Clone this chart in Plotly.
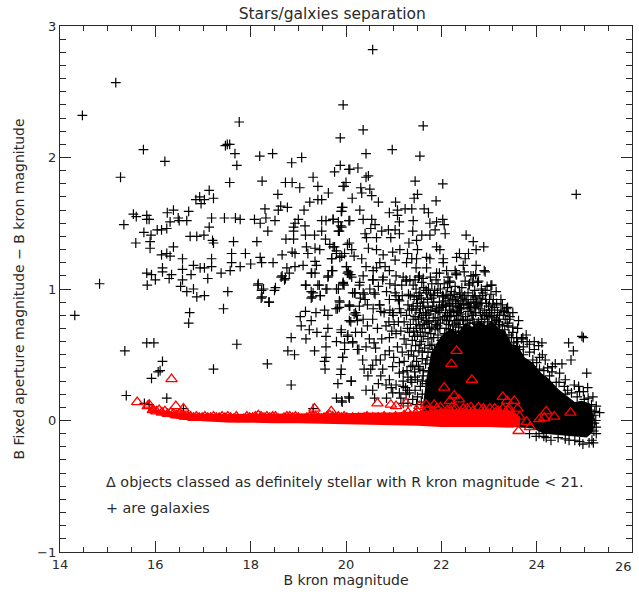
import plotly.graph_objects as go

galaxies_bright = [(14.47,2.32),(15.17,2.57),(15.75,2.06),(16.2,1.97),(15.27,1.85),(17.76,2.27),(17.51,2.10),(17.56,2.10),(17.47,2.09),(17.67,2.03),(17.71,1.94),(17.56,1.81),(18.19,2.01),(18.46,2.03),(18.86,1.96),(19.07,2.0),(18.24,1.82),(19.31,1.85),(18.73,1.81),(18.87,1.81),(19.03,1.77),(19.41,1.78),(18.57,1.72),(19.63,1.73),(19.94,2.40),(19.88,2.15),(19.88,1.94),(19.76,1.89),(20.06,1.91),(20.0,1.81),(19.94,1.78),(17.13,1.75),(17.22,1.69),(17.03,1.68),(16.93,1.70),(16.85,1.68),(16.96,1.65),(16.7,1.59),(16.38,1.6),(16.25,1.58),(15.54,1.57),(15.6,1.55),(15.82,1.56),(15.82,1.53),(15.87,1.53),(15.34,1.49),(16.31,1.51),(16.48,1.54),(16.5,1.52),(16.66,1.52),(17.18,1.54),(17.45,1.54),(17.68,1.54),(17.78,1.53),(18.08,1.53),(18.2,1.5),(18.32,1.54),(18.51,1.52),(18.3,1.61),(18.58,1.6),(18.63,1.63),(18.77,1.62),(19.12,1.6),(19.24,1.66),(19.41,1.68),(19.49,1.68),(19.91,1.62),(19.9,1.59),(18.36,1.44),(19.0,1.53),(18.93,1.5),(18.9,1.47),(18.9,1.44),(19.14,1.48),(19.49,1.52),(19.58,1.52),(19.73,1.53),(19.49,1.44),(19.84,1.51),(19.89,1.48),(19.86,1.44),(20.06,1.52)]
galaxies_mid_left = [(15.76,1.43),(15.91,1.41),(15.89,1.36),(15.89,1.31),(15.59,1.35),(16.04,1.45),(16.13,1.45),(16.24,1.46),(16.73,1.4),(16.87,1.4),(17.02,1.41),(17.13,1.47),(17.2,1.37),(17.22,1.35),(17.64,1.36),(18.13,1.36),(18.74,1.38),(18.9,1.38),(19.15,1.41),(19.34,1.41),(19.57,1.38),(16.38,1.32),(16.13,1.26),(16.24,1.27),(16.31,1.25),(16.57,1.23),(17.6,1.27),(17.89,1.27),(18.66,1.26),(18.87,1.28),(18.93,1.27),(19.17,1.32),(19.35,1.31),(19.45,1.3),(19.66,1.34),(19.76,1.32),(19.8,1.29),(20.03,1.34),(19.2,1.27),(17.18,1.23),(18.2,1.24),(17.6,1.2),(18.0,1.19),(18.23,1.2),(18.47,1.2),(16.8,1.18),(17.18,1.17),(16.94,1.16),(17.03,1.16),(17.78,1.17),(17.57,1.14),(16.15,1.16),(16.57,1.15),(16.15,1.13),(15.82,1.12),(15.92,1.11),(16.34,1.11),(16.75,1.11),(17.38,1.12),(18.76,1.16),(18.93,1.17),(19.1,1.18),(19.35,1.21),(19.38,1.18),(19.7,1.23),(19.91,1.25),(19.7,1.14),(20.01,1.17),(20.03,1.12),(19.28,1.12),(19.35,1.12),(16.0,1.07),(16.29,1.08),(16.57,1.07),(17.1,1.08),(18.66,1.1),(18.73,1.08),(19.63,1.1),(14.83,1.04),(15.83,1.03),(16.53,1.02),(18.16,1.04),(18.52,1.01),(19.16,1.03),(19.44,1.03),(19.94,1.04),(19.84,1.0),(19.6,1.0),(16.66,0.98),(16.8,1.0),(17.52,0.98),(18.27,1.0),(19.31,0.97),(16.87,0.94),(17.03,0.95),(18.24,0.94),(19.29,0.94),(19.46,0.95)]
galaxies_low_left = [(14.31,0.80),(16.72,0.82),(16.7,0.74),(17.43,0.85),(18.39,0.9),(15.36,0.53),(15.82,0.59),(15.97,0.59),(16.15,0.45),(17.71,0.58),(16.1,0.38),(16.06,0.37),(15.92,0.32),(17.22,0.39),(18.35,0.43),(18.85,0.27),(15.39,0.19),(16.24,0.17),(15.77,0.13),(15.87,0.12),(16.59,0.09),(18.85,0.63),(18.78,0.53),(18.92,0.5),(19.16,0.62),(19.34,0.53),(19.23,0.69),(19.06,0.72),(19.04,0.79),(19.15,0.83),(19.27,0.76),(19.37,0.82),(19.62,0.7),(19.39,0.67),(19.55,0.84),(19.62,0.8),(19.79,0.85),(19.86,0.91),(19.86,0.86),(20.07,0.88),(19.27,0.98),(19.27,0.93),(19.46,0.95),(19.15,1.03),(19.41,1.03),(19.58,1.0),(19.8,1.0),(19.94,1.04),(18.15,1.03),(18.23,0.99),(18.5,0.99),(18.22,0.93),(18.38,0.9),(18.64,1.09),(18.71,1.07),(18.81,1.12),(19.27,1.12),(19.62,1.09),(20.07,1.11),(20.18,0.97),(20.2,0.82),(20.1,0.75),(19.9,0.69),(20.04,0.65),(20.2,0.67),(19.58,0.64),(19.8,0.6),(19.97,0.59),(20.14,0.6),(19.58,0.56),(19.97,0.54),(20.24,0.54),(19.93,0.48),(19.58,0.48),(19.55,0.45),(19.56,0.39),(19.9,0.39),(19.89,0.35),(20.11,0.3),(19.83,0.28),(19.8,0.17),(19.92,0.14),(20.07,0.17),(19.31,0.09)]
galaxies_upper_right = [(20.56,2.82),(21.62,2.24),(20.36,2.21),(20.97,2.06),(20.42,2.03),(21.55,2.01),(20.08,1.91),(20.25,1.92),(20.47,1.86),(20.42,1.85),(19.96,1.78),(21.45,1.82),(22.03,1.8),(24.83,1.72),(20.31,1.77),(20.5,1.76),(20.33,1.73),(20.54,1.71),(20.13,1.69),(20.68,1.66),(21.04,1.66),(21.5,1.72),(21.43,1.69),(21.89,1.67),(19.93,1.62),(19.91,1.59),(20.29,1.6),(20.91,1.58),(21.08,1.6),(21.08,1.56),(21.24,1.61),(21.38,1.61),(21.64,1.61),(21.73,1.58),(19.73,1.53),(20.08,1.52),(20.36,1.53),(20.54,1.53),(21.12,1.51),(21.41,1.52),(22.03,1.53),(21.9,1.51),(21.76,1.5),(19.91,1.47),(19.84,1.44),(20.61,1.49),(20.52,1.46),(20.75,1.44),(20.89,1.45),(21.03,1.45),(20.4,1.42),(21.12,1.42),(20.94,1.39),(21.4,1.44),(22.06,1.49),(21.87,1.45),(22.08,1.42),(21.59,1.41),(21.76,1.41),(22.52,1.41),(22.67,1.36),(20.64,1.39),(20.43,1.39),(21.48,1.37),(21.32,1.35),(20.07,1.35),(19.73,1.32),(20.47,1.31),(20.12,1.3),(20.64,1.3),(21.13,1.3),(20.98,1.28),(21.5,1.3),(21.9,1.32),(21.97,1.3),(22.73,1.3),(22.89,1.32),(19.8,1.27),(19.97,1.27),(20.17,1.25),(20.78,1.26),(20.33,1.23),(19.7,1.23),(19.87,1.24),(21.03,1.22),(21.29,1.27),(21.38,1.23),(21.48,1.23),(21.69,1.24),(21.76,1.23),(22.04,1.23),(22.32,1.24),(22.38,1.27),(22.57,1.27),(22.5,1.23),(22.04,1.2),(20.42,1.17),(20.71,1.2),(20.64,1.16),(20.01,1.17),(20.82,1.17),(21.27,1.2),(21.69,1.16),(21.47,1.16),(22.46,1.18),(22.73,1.18),(22.29,1.14),(22.92,1.13),(22.11,1.14),(19.72,1.14),(20.05,1.13),(20.57,1.14),(20.91,1.14),(20.12,1.09),(20.36,1.1),(20.78,1.09),(21.2,1.09),(21.34,1.07),(21.52,1.09),(21.9,1.12),(21.93,1.04),(22.32,1.11),(22.67,1.1),(22.18,1.06),(19.94,1.05),(20.29,1.05),(20.57,1.07),(21.03,1.03),(21.27,1.06),(21.59,1.05),(22.59,1.04),(22.78,1.06),(23.06,1.03),(20.19,0.97),(20.36,0.97),(20.61,0.96),(20.85,0.98),(21.03,0.97),(21.31,0.96),(21.69,0.97),(22.04,0.94),(22.39,0.96),(22.71,0.94),(22.92,0.99),(19.87,0.9),(20.4,0.92),(21.1,0.92),(20.71,0.88),(21.48,0.92),(21.8,0.93),(22.18,0.89),(23.09,0.92),(22.57,0.89),(22.85,0.89),(19.82,0.85),(20.08,0.87),(20.92,0.84),(20.57,0.85),(21.41,0.87),(21.9,0.85),(22.04,0.87),(22.39,0.85),(23.37,0.85),(23.3,0.8),(23.44,0.79),(20.22,0.8),(21.27,0.8),(21.69,0.8),(20.99,0.8),(22.32,0.8),(22.67,0.8),(23.06,0.8),(20.36,0.77)]
galaxies_central = [(20.1,1.11),(19.96,1.03),(20.28,1.03),(20.14,0.97),(20.56,1.07),(20.77,1.07),(21.05,1.1),(21.26,1.07),(21.54,1.1),(21.89,1.07),(22.31,1.11),(21.96,1.12),(20.38,0.96),(20.59,0.97),(21.05,0.95),(21.12,0.91),(20.91,0.92),(21.68,0.99),(22.03,0.95),(22.27,0.96),(22.45,0.93),(20.07,0.87),(20.28,0.87),(20.45,0.88),(20.7,0.88),(20.73,0.83),(20.98,0.82),(21.15,0.82),(21.33,0.84),(21.54,0.82),(21.82,0.87),(22.1,0.87),(22.34,0.84),(20.17,0.81),(20.07,0.76),(20.24,0.76),(20.56,0.77),(20.84,0.72),(21.01,0.73),(21.29,0.7),(21.15,0.68),(21.47,0.73),(21.68,0.76),(21.89,0.73),(22.17,0.76),(22.45,0.77),(19.9,0.67),(20.03,0.64),(20.14,0.59),(20.49,0.62),(20.59,0.59),(20.42,0.56),(20.91,0.63),(21.22,0.62),(21.08,0.56),(20.91,0.53),(20.27,0.54),(19.93,0.48),(20.35,0.46),(20.63,0.46),(20.56,0.42),(20.52,0.39),(20.77,0.39),(20.38,0.39),(20.98,0.41),(21.22,0.45),(21.4,0.42),(21.12,0.36),(20.91,0.31),(20.73,0.34),(20.11,0.3),(21.36,0.31),(21.05,0.27),(20.84,0.27),(20.42,0.23),(20.56,0.23),(21.12,0.21),(20.98,0.21),(21.29,0.23),(20.06,0.18),(19.91,0.15),(21.15,0.17),(21.26,0.2),(20.85,0.17),(20.6,0.17)]
galaxies_edge = [(22.31,1.12),(22.62,1.1),(22.9,1.14),(22.17,1.05),(22.58,1.03),(22.76,1.05),(23.04,1.03),(22.38,0.97),(22.87,0.97),(22.66,0.95),(22.03,0.95),(23.01,0.92),(23.08,0.88),(22.83,0.89),(22.03,0.88),(22.17,0.88),(23.39,0.86),(23.32,0.83),(22.38,0.86),(22.59,0.86),(23.01,0.82),(23.43,0.77),(23.15,0.76),(23.6,0.7),(23.78,0.65),(23.71,0.63),(24.11,0.59),(24.04,0.57),(23.85,0.58),(24.67,0.59),(24.95,0.64),(24.98,0.63),(24.77,0.53),(24.72,0.46),(24.53,0.43),(24.39,0.43),(24.23,0.4),(25.05,0.36),(24.79,0.27),(24.65,0.23),(25.07,0.25),(25.18,0.18),(25.25,0.11),(25.32,0.06),(25.21,-0.02),(25.25,-0.1),(25.16,-0.15),(25.19,-0.17),(24.97,-0.18),(24.3,-0.15),(23.99,-0.12),(24.41,0.29),(24.06,0.39),(23.92,0.46),(23.64,0.54),(23.22,0.73),(23.5,0.67),(24.06,0.48),(24.27,0.34),(24.6,0.2),(24.85,0.18),(25.0,0.16),(25.12,0.08),(25.2,0.04),(25.25,-0.05),(25.1,-0.17),(24.8,-0.15),(24.6,-0.14),(24.45,-0.13),(24.15,-0.12),(23.85,-0.1)]
galaxies_dense = [(21.41,1.03),(21.73,1.0),(22.06,1.04),(22.43,1.01),(22.7,0.99),(22.96,1.02),(21.55,0.97),(21.86,0.99),(22.21,0.98),(22.49,0.95),(22.81,0.93),(21.43,0.94),(21.71,0.92),(21.96,0.9),(22.14,0.93),(22.3,0.91),(22.52,0.92),(22.74,0.9),(22.99,0.87),(21.5,0.89),(21.78,0.84),(22.01,0.86),(22.26,0.83),(22.47,0.88),(22.69,0.86),(22.91,0.84),(23.12,0.86),(21.38,0.85),(21.61,0.87),(21.87,0.83),(22.09,0.82),(22.33,0.87),(22.56,0.83),(22.79,0.85),(23.0,0.79),(23.25,0.84),(21.45,0.79),(21.67,0.82),(21.93,0.78),(22.13,0.8),(22.28,0.76),(22.51,0.79),(22.72,0.82),(22.95,0.81),(23.11,0.78),(23.34,0.77),(21.52,0.77),(21.74,0.75),(21.98,0.74),(22.2,0.79),(22.41,0.81),(22.6,0.74),(22.84,0.77),(23.06,0.74),(23.28,0.72),(21.35,0.73),(21.6,0.7),(21.8,0.71),(22.03,0.77),(22.24,0.72),(22.47,0.73),(22.66,0.77),(22.89,0.72),(23.1,0.7),(23.33,0.69),(23.5,0.71),(21.42,0.68),(21.66,0.67),(21.87,0.69),(22.1,0.7),(22.3,0.67),(22.52,0.7),(22.75,0.73),(22.96,0.7),(23.18,0.66),(23.42,0.65),(23.58,0.63),(21.5,0.65),(21.72,0.62),(21.93,0.65),(22.16,0.66),(22.36,0.71),(22.58,0.66),(22.8,0.69),(23.02,0.68),(23.25,0.62),(21.39,0.61),(21.58,0.6),(21.8,0.58),(22.0,0.61),(22.22,0.63),(22.42,0.64),(22.63,0.62),(22.85,0.65),(23.08,0.63),(23.3,0.6),(23.52,0.59),(23.72,0.56),(21.46,0.57),(21.65,0.55),(21.86,0.54),(22.07,0.57),(22.27,0.59),(22.48,0.6),(21.53,0.53),(21.72,0.52),(21.93,0.5),(22.12,0.53),(22.34,0.55),(21.42,0.49),(21.6,0.47),(21.79,0.48),(22.0,0.46),(22.18,0.49),(21.48,0.45),(21.67,0.43),(21.85,0.42),(22.05,0.41),(21.36,0.41),(21.55,0.39),(21.73,0.37),(21.92,0.38),(21.44,0.37),(21.62,0.34),(21.8,0.33),(21.3,0.33),(21.5,0.31),(21.68,0.28),(21.38,0.29),(21.56,0.26),(21.25,0.25),(21.45,0.23),(21.6,0.2),(21.33,0.21),(21.5,0.18),(21.4,0.16),(21.58,0.14),
    (21.35,0.95),(21.58,0.93),(21.84,0.95),(22.1,0.96),(22.24,0.92),(22.36,0.89),(22.62,0.9),(22.77,0.88),(22.93,0.92),(21.47,0.84),(21.72,0.86),(21.95,0.84),(22.17,0.84),(22.42,0.85),(22.64,0.81),(22.87,0.8),(23.18,0.82),(21.58,0.78),(21.83,0.78),(22.07,0.79),(22.35,0.77),(22.55,0.76),(22.78,0.75),(22.97,0.75),(23.2,0.75),(23.4,0.72),(21.55,0.72),(21.75,0.7),(21.97,0.7),(22.19,0.69),(22.43,0.68),(22.68,0.7),(22.92,0.67),(23.14,0.71),(23.3,0.65),(23.47,0.63),(21.44,0.64),(21.62,0.64),(21.84,0.63),(22.06,0.63),(22.27,0.64),(22.53,0.64),(22.72,0.66),(23.22,0.68),(23.6,0.6),(21.55,0.58),(21.76,0.57),(21.97,0.56),(22.17,0.58),(22.38,0.6),(22.6,0.6),(21.37,0.53),(21.6,0.52),(21.82,0.52),(22.03,0.52),(22.24,0.54),(21.52,0.41),(21.7,0.46),(21.9,0.46),(22.1,0.47),(21.45,0.33),(21.62,0.38),(21.82,0.4),(21.96,0.43),(21.2,0.3),(21.6,0.3),(21.75,0.3),(21.48,0.12),(21.3,0.13),(21.2,0.13),(21.75,0.15),
    (23.85,0.52),(24.0,0.44),(24.15,0.38),(24.32,0.37),(24.47,0.29),(24.58,0.26),(24.73,0.21),(24.9,0.22),(25.08,0.17),(25.15,0.12),(25.22,0.07),(25.24,0.0),(25.2,-0.08),(24.9,-0.16),(24.68,-0.15),(24.2,-0.13),(24.05,-0.1),(23.72,0.5),(23.58,0.56),(23.8,0.43),(23.68,0.62)]
galaxies_dense_upper = [(21.47,1.0),(21.63,1.01),(21.8,1.04),(21.98,1.0),(22.13,1.01),(22.29,1.02),(22.5,1.06),(22.66,1.05),(22.84,1.0),(21.53,0.95),(21.77,0.96),(21.92,0.97),(22.19,0.95),(22.33,0.94),(22.56,0.97),(22.68,0.92),(22.86,0.95),(23.04,0.96),(21.63,0.9),(21.84,0.9),(22.08,0.91),(22.23,0.87),(22.41,0.91),(22.54,0.88),(22.72,0.87),(22.95,0.89),(23.16,0.89),(21.56,0.85),(21.74,0.81),(21.97,0.82),(22.2,0.82),(22.37,0.82),(22.61,0.85),(22.82,0.82),(23.05,0.84),(23.22,0.8),(21.62,0.8),(21.87,0.76),(22.11,0.76),(22.31,0.74),(22.46,0.76),(22.69,0.74),(22.91,0.77),(23.16,0.77),(23.38,0.74),(21.7,0.74),(21.92,0.72),(22.15,0.73),(22.39,0.73),(22.58,0.71),(22.82,0.72),(23.03,0.72),(21.48,0.7),(21.64,0.73),(22.07,0.66),(22.25,0.68),(22.49,0.67),(22.69,0.68),(21.78,0.66),(21.56,0.67),(21.33,0.67),(21.41,0.77),(21.3,0.88),(21.22,0.75),(21.18,0.95),(21.12,0.85),(21.26,0.58),(21.31,0.5),(21.18,0.52),(21.05,0.66),(20.96,0.68),(21.1,0.75),(20.9,0.75),(20.8,0.82),(20.66,0.7),(20.75,0.62),(20.62,0.55),(20.82,0.5),(20.72,0.46),(21.0,0.48),(21.12,0.44),(21.28,0.38),(21.2,0.37),(20.46,0.34),(20.68,0.28),(20.95,0.25),(21.2,0.26),(20.45,0.72),(20.33,0.67),(20.3,0.93),(20.5,1.0),(20.68,1.02),(20.92,1.04),(21.17,1.03),(21.45,1.07),(21.62,1.08),(21.77,1.09),(22.14,1.09),(22.48,1.13),(22.72,1.11),(23.15,0.98),(23.25,0.92),(23.5,0.82),(23.62,0.76),(23.4,0.82),(23.28,0.88),(23.8,0.6),(23.95,0.54),(24.18,0.46),(24.33,0.41),(24.48,0.36),(24.6,0.31),(24.88,0.26),(24.98,0.22),(23.95,0.6),(24.12,0.5)]

# Outline of the part of the cloud where the plus signs merge into solid black.
solid_cloud_x = [21.6,21.68,21.78,21.92,22.05,22.2,22.34,22.5,22.65,22.8,22.95,23.05,23.2,23.34,23.48,23.6,23.75,23.92,24.1,24.25,24.45,24.62,24.8,24.95,25.12,25.2,25.18,25.05,24.76,24.4,24.15,23.92,23.36,22.66,21.96]
solid_cloud_y = [0.08,0.3,0.5,0.6,0.66,0.7,0.66,0.74,0.71,0.76,0.72,0.76,0.7,0.68,0.58,0.57,0.48,0.44,0.36,0.32,0.24,0.19,0.14,0.15,0.13,0.03,-0.09,-0.13,-0.12,-0.11,-0.1,-0.06,-0.045,-0.045,-0.02]

# Outline of the stellar locus, where the triangles merge into solid red.
locus_top_x = [15.85,16.0,16.2,16.5,17.0,17.5,18.0,18.5,19.0,19.3,19.6,20.0,20.5,21.0,21.5,22.0,22.5,23.0,23.5,23.65]
locus_top_y = [0.09,0.085,0.075,0.06,0.05,0.05,0.05,0.05,0.05,0.055,0.055,0.055,0.06,0.06,0.07,0.08,0.08,0.08,0.07,0.03]
locus_bottom_x = [23.65,23.5,23.0,22.5,22.0,21.5,21.0,20.5,20.0,19.5,19.0,18.5,18.0,17.5,17.0,16.5,16.2,16.0,15.85]
locus_bottom_y = [-0.04,-0.055,-0.05,-0.05,-0.05,-0.04,-0.035,-0.03,-0.03,-0.02,-0.02,-0.02,-0.02,-0.015,-0.005,0.01,0.03,0.05,0.07]

stars_isolated = [(22.32,0.53),(22.21,0.43),(22.64,0.31),(22.06,0.25),(23.29,0.18),(23.38,0.15),(23.53,0.15),(22.27,0.19),(22.37,0.16),(22.18,0.15),(23.6,0.09),(24.2,0.07),(24.37,0.03),(24.71,0.06),(24.06,0.01),(23.79,-0.01),(23.86,-0.05),(23.62,-0.08),(23.29,0.09),(23.39,0.08),(23.22,0.06),(23.64,0.03),(24.16,0.02),(20.66,0.13),(20.94,0.12),(21.05,0.11),(21.26,0.13),(21.54,0.11),(21.68,0.12),(21.85,0.12),(16.34,0.315),(15.62,0.14),(15.84,0.11),(15.87,0.12),(16.43,0.11),(16.59,0.09),(19.34,0.09),(19.69,0.07)]
stars_locus_bright = [(15.95,0.08),(16.02,0.07),(16.08,0.08),(16.14,0.06),(16.2,0.07),(16.26,0.05),(16.32,0.06),(16.38,0.05),(16.44,0.04),(16.5,0.05),(16.56,0.04),(16.62,0.03),(16.68,0.03),(16.74,0.03),(16.8,0.02),(16.86,0.03),(16.92,0.02),(16.98,0.02),(17.04,0.03),(17.1,0.02),(17.16,0.02),(17.22,0.03),(17.28,0.02),(17.34,0.02),(17.4,0.03),(17.46,0.02),(17.52,0.03),(17.58,0.02),(17.64,0.01),(17.7,0.03),(17.85,0.01),(17.92,0.03),(17.98,0.02),(18.04,0.02),(18.1,0.03),(18.16,0.04),(18.22,0.03),(18.28,0.02),(18.34,0.03),(18.4,0.02),(18.46,0.03),(18.52,0.03),(18.58,0.01),(18.7,0.02),(18.76,0.03),(18.82,0.03),(18.88,0.02),(18.94,0.03),(19.0,0.02),(19.06,0.01),(19.12,0.01),(19.18,0.02),(19.24,0.03),(19.3,0.03),(19.36,0.03),(19.42,0.02),(19.48,0.01),(19.54,0.02),(19.6,0.03),(19.66,0.04),(19.72,0.03),(19.78,0.02),(19.84,0.03),(19.9,0.02),(19.96,0.03)]
stars_locus_faint = [(20.02,0.02),(20.08,0.01),(20.14,0.02),(20.2,0.01),(20.26,0.02),(20.32,0.01),(20.38,0.02),(20.44,0.03),(20.5,0.01),(20.56,0.02),(20.62,0.01),(20.68,0.02),(20.74,0.01),(20.8,0.03),(20.86,0.0),(20.92,0.02),(20.98,0.01),(21.04,0.03),(21.1,0.0),(21.16,0.02),(21.22,0.04),(21.28,0.01),(21.34,0.03),(21.4,0.0),(21.46,0.05),(21.52,0.02),(21.58,0.0),(21.64,0.06),(21.7,0.02),(21.76,0.0),(21.82,0.07),(21.88,0.03),(21.94,0.0),(22.0,0.06),(22.06,0.02),(22.12,0.08),(22.18,0.0),(22.24,0.05),(22.3,0.09),(22.36,0.02),(22.42,0.06),(22.48,0.0),(22.54,0.09),(22.6,0.03),(22.66,0.07),(22.72,0.0),(22.78,0.1),(22.84,0.04),(22.9,0.07),(22.96,0.0),(23.02,0.09),(23.08,0.03),(23.14,0.06),(23.2,0.0),(23.26,0.04),(23.32,0.01),(23.38,0.05),(23.44,0.0),(23.5,0.03),(21.3,0.06),(21.5,0.07),(21.7,0.08),(21.9,0.09),(22.1,0.03),(22.2,0.07),(22.4,0.03),(22.5,0.05),(22.7,0.04),(22.8,0.01),(22.9,0.03),(23.0,0.05),(23.1,0.0),(23.2,0.07),(21.98,0.1),(22.22,0.1),(22.46,0.09),(22.62,0.1),(22.88,0.09),(23.12,0.09),(23.42,0.09)]

title_text = "Stars/galxies separation"
x_title = "B kron magnitude"
y_title = "B Fixed aperture magnitude \u2212 B kron magnitude"
note_stars = "\u0394 objects classed as definitely stellar with R kron magnitude < 21."
note_galaxies = "+ are galaxies"
last_x_tick_label = "26"

galaxy_groups = [galaxies_bright, galaxies_mid_left, galaxies_low_left, galaxies_upper_right,
                 galaxies_central, galaxies_edge, galaxies_dense, galaxies_dense_upper]
galaxy_points = [p for g in galaxy_groups for p in g]
star_points = stars_locus_bright + stars_locus_faint + stars_isolated

FONT = "DejaVu Sans"
INK = "#2a2a2a"

fig = go.Figure()
fig.add_trace(go.Scatter(x=solid_cloud_x, y=solid_cloud_y, mode="lines", fill="toself",
                         fillcolor="black", line=dict(color="black", width=0), hoverinfo="skip"))
fig.add_trace(go.Scatter(x=[p[0] for p in galaxy_points], y=[p[1] for p in galaxy_points], mode="markers",
                         marker=dict(symbol="cross-thin", size=7, color="black",
                                     line=dict(color="black", width=1.2))))
fig.add_trace(go.Scatter(x=locus_top_x + locus_bottom_x, y=locus_top_y + locus_bottom_y, mode="lines",
                         fill="toself", fillcolor="#ff0000", line=dict(color="#ff0000", width=0), hoverinfo="skip"))
fig.add_trace(go.Scatter(x=[p[0] for p in star_points], y=[p[1] for p in star_points], mode="markers",
                         marker=dict(symbol="triangle-up-open", size=10, color="#ff0000",
                                     line=dict(color="#ff0000", width=1.3))))

axis_common = dict(showgrid=False, zeroline=False, showline=True, linecolor=INK, linewidth=1.4,
                   mirror="allticks", ticks="inside", tickcolor=INK, tickwidth=1.2, ticklen=11,
                   automargin=False, tickfont=dict(family=FONT, size=13, color=INK))
fig.update_xaxes(range=[14, 26], tick0=14, dtick=2,
                 minor=dict(dtick=0.5, ticks="inside", ticklen=5, tickcolor=INK, tickwidth=1.2),
                 title=dict(text=x_title, font=dict(family=FONT, size=14, color=INK), standoff=4),
                 **axis_common)
fig.update_yaxes(range=[-1, 3], tick0=-1, dtick=1,
                 minor=dict(dtick=0.1, ticks="inside", ticklen=6, tickcolor=INK, tickwidth=1.2),
                 title=dict(text=y_title, font=dict(family=FONT, size=14, color=INK), standoff=9),
                 **axis_common)
fig.update_layout(width=639, height=596, autosize=False, showlegend=False, plot_bgcolor="white",
                  paper_bgcolor="white", margin=dict(l=60, r=7, t=26, b=44),
                  title=dict(text=title_text, x=0.52, xanchor="center", y=0.977, yanchor="middle",
                             font=dict(family=FONT, size=15.5, color=INK)))
fig.add_annotation(x=14.93, y=-0.467, xanchor="left", yanchor="middle", showarrow=False, text=note_stars,
                   font=dict(family=FONT, size=14.35, color=INK))
fig.add_annotation(x=14.93, y=-0.665, xanchor="left", yanchor="middle", showarrow=False, text=note_galaxies,
                   font=dict(family=FONT, size=14.35, color=INK))
# Plotly drops the tick label at the right edge, so it is added as text at the axis end.
fig.add_annotation(x=26, xref="x", xanchor="right", xshift=2, y=0, yref="paper", yanchor="top", yshift=-5,
                   showarrow=False, text=last_x_tick_label, font=dict(family=FONT, size=13, color=INK))
fig.write_html("out.html", config={"displayModeBar": False},
               post_script="document.body.style.margin='0';")
